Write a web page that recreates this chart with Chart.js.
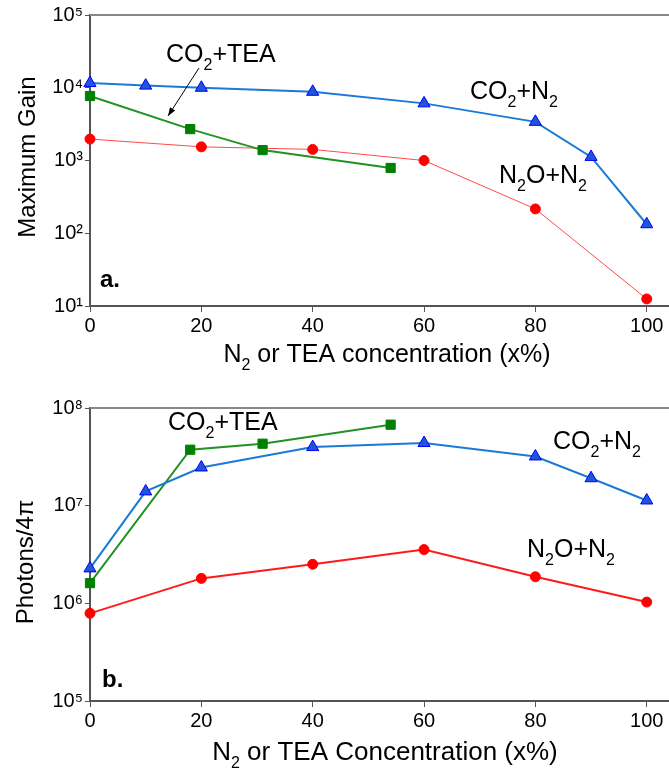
<!DOCTYPE html>
<html>
<head>
<meta charset="utf-8">
<script src="https://cdn.jsdelivr.net/npm/chart.js@4.4.1/dist/chart.umd.min.js"></script>
<style>
  html, body { margin: 0; padding: 0; background: #fff; }
  #wrap { position: relative; width: 669px; height: 769px; }
  #gainChart { position: absolute; left: 0; top: 0; }
  #photonChart { position: absolute; left: 0; top: 375px; }
</style>
</head>
<body>
<div id="wrap">
  <canvas id="gainChart" width="669" height="375"></canvas>
  <canvas id="photonChart" width="669" height="394"></canvas>
</div>
<script>
// concentration (x%) for each mixture
const xCO2N2 = [0, 10, 20, 40, 60, 80, 90, 100];
const xCO2TEA = [0, 18, 31, 54];
const xN2ON2 = [0, 20, 40, 60, 80, 100];

// panel a: maximum gain
const gainCO2N2 = [11600, 10700, 10000, 8800, 6100, 3400, 1120, 133];
const gainCO2TEA = [7700, 2700, 1390, 790];
const gainN2ON2 = [1970, 1540, 1420, 1000, 216, 12.5];

// panel b: photons / 4pi
const photCO2N2 = [2.28e6, 1.40e7, 2.46e7, 3.98e7, 4.38e7, 3.19e7, 1.91e7, 1.13e7];
const photCO2TEA = [1.61e6, 3.74e7, 4.31e7, 6.75e7];
const photN2ON2 = [7.9e5, 1.80e6, 2.51e6, 3.55e6, 1.87e6, 1.03e6];

// ticks
const xTicks = [0, 20, 40, 60, 80, 100];
const gainTicks = [1e1, 1e2, 1e3, 1e4, 1e5];
const photTicks = [1e5, 1e6, 1e7, 1e8];

const FONT = '"Liberation Sans", Arial, sans-serif';
const SUP = { 0: '\u2070', 1: '\u00b9', 2: '\u00b2', 3: '\u00b3', 4: '\u2074', 5: '\u2075', 6: '\u2076', 7: '\u2077', 8: '\u2078', 9: '\u2079' };

function pts(xs, ys) {
    return xs.map((x, i) => ({ x: x, y: ys[i] }));
}

// draw a label like CO2+TEA where sub parts are lowered
function drawChem(ctx, parts, x, y, size, align) {
    const subSize = Math.round(size * 0.62);
    let total = 0;
    parts.forEach(([t, sub]) => {
        ctx.font = (sub ? subSize : size) + 'px ' + FONT;
        total += ctx.measureText(t).width;
    });
    let cx = align === 'center' ? x - total / 2 : x;
    ctx.textAlign = 'left';
    ctx.textBaseline = 'alphabetic';
    parts.forEach(([t, sub]) => {
        ctx.font = (sub ? subSize : size) + 'px ' + FONT;
        ctx.fillText(t, cx, y + (sub ? size * 0.3 : 0));
        cx += ctx.measureText(t).width;
    });
}

function makeOptions(yMin, yMax, yTicks, padTop, xHeight) {
    return {
        responsive: false,
        animation: false,
        devicePixelRatio: 1,
        layout: { autoPadding: false, padding: { top: padTop, right: 0, left: 0, bottom: 0 } },
        plugins: { legend: { display: false }, tooltip: { enabled: false } },
        scales: {
            x: {
                type: 'linear',
                min: 0,
                max: 104,
                afterBuildTicks: (scale) => { scale.ticks = xTicks.map(v => ({ value: v })); },
                afterFit: (scale) => {
                    scale.height = xHeight;
                    scale.paddingLeft = 0;
                    scale.paddingRight = 0;
                },
                grid: { drawOnChartArea: false, drawTicks: true, tickLength: 6, color: '#555' },
                border: { display: true, color: '#555', width: 2 },
                ticks: { color: '#000', font: { family: FONT, size: 20 }, padding: 2, maxRotation: 0 }
            },
            y: {
                type: 'logarithmic',
                min: yMin,
                max: yMax,
                afterBuildTicks: (scale) => { scale.ticks = yTicks.map(v => ({ value: v })); },
                afterFit: (scale) => {
                    scale.width = 90;
                    scale.paddingTop = 0;
                    scale.paddingBottom = 0;
                },
                grid: { drawOnChartArea: false, drawTicks: true, tickLength: 5, color: '#555' },
                border: { display: true, color: '#555', width: 2 },
                ticks: {
                    color: '#000',
                    font: { family: FONT, size: 20 },
                    padding: 2,
                    callback: (v) => '10' + SUP[Math.round(Math.log10(v))]
                }
            }
        }
    };
}

function makeDatasets(a, b, c, thinRed) {
    return [
        {
            data: a, borderColor: '#1a7ad6', borderWidth: 2,
            pointStyle: 'triangle', pointRadius: 7, pointBackgroundColor: '#1f56d8',
            pointBorderColor: '#0000ff', pointBorderWidth: 1, clip: false
        },
        {
            data: b, borderColor: '#239223', borderWidth: 2,
            pointStyle: 'rect', pointRadius: 6.5, pointBackgroundColor: '#008000',
            pointBorderColor: '#008000', pointBorderWidth: 1, clip: false
        },
        {
            data: c, borderColor: thinRed ? '#ff4a4a' : '#ff1a1a', borderWidth: thinRed ? 1 : 2,
            pointStyle: 'circle', pointRadius: 5, pointBackgroundColor: '#ff0000',
            pointBorderColor: '#ff0000', pointBorderWidth: 1, clip: false
        }
    ];
}

// top frame line, titles, labels
function decorPlugin(cfg) {
    return {
        id: 'decor',
        afterDraw(chart) {
            const ctx = chart.ctx;
            const area = chart.chartArea;
            ctx.save();
            ctx.strokeStyle = '#888';
            ctx.lineWidth = 2;
            ctx.beginPath();
            ctx.moveTo(area.left, area.top);
            ctx.lineTo(chart.width, area.top);
            ctx.stroke();

            ctx.fillStyle = '#000';
            // y title
            ctx.save();
            ctx.translate(cfg.yTitle.x, cfg.yTitle.y);
            ctx.rotate(-Math.PI / 2);
            ctx.font = '24px ' + FONT;
            ctx.textAlign = 'center';
            ctx.textBaseline = 'alphabetic';
            ctx.fillText(cfg.yTitle.text, 0, 0);
            ctx.restore();

            // x title
            drawChem(ctx, cfg.xTitle.parts, cfg.xTitle.x, cfg.xTitle.y, cfg.xTitle.size, 'center');

            // series labels
            cfg.labels.forEach(l => drawChem(ctx, l.parts, l.x, l.y, 25, 'left'));

            // panel letter
            ctx.font = 'bold 24px ' + FONT;
            ctx.textAlign = 'left';
            ctx.fillText(cfg.panel.text, cfg.panel.x, cfg.panel.y);

            if (cfg.arrow) {
                const a = cfg.arrow;
                ctx.strokeStyle = '#000';
                ctx.lineWidth = 1;
                ctx.beginPath();
                ctx.moveTo(a.x1, a.y1);
                ctx.lineTo(a.x2, a.y2);
                ctx.stroke();
                const ang = Math.atan2(a.y2 - a.y1, a.x2 - a.x1);
                ctx.beginPath();
                ctx.moveTo(a.x2, a.y2);
                ctx.lineTo(a.x2 - 9 * Math.cos(ang - 0.35), a.y2 - 9 * Math.sin(ang - 0.35));
                ctx.lineTo(a.x2 - 9 * Math.cos(ang + 0.35), a.y2 - 9 * Math.sin(ang + 0.35));
                ctx.closePath();
                ctx.fill();
            }
            ctx.restore();
        }
    };
}

const CO2TEA = [['CO', 0], ['2', 1], ['+TEA', 0]];
const CO2N2 = [['CO', 0], ['2', 1], ['+N', 0], ['2', 1]];
const N2ON2 = [['N', 0], ['2', 1], ['O+N', 0], ['2', 1]];

new Chart(document.getElementById('gainChart'), {
    type: 'line',
    data: {
        datasets: makeDatasets(pts(xCO2N2, gainCO2N2), pts(xCO2TEA, gainCO2TEA), pts(xN2ON2, gainN2ON2), true)
    },
    options: makeOptions(10, 1e5, gainTicks, 15, 69),
    plugins: [decorPlugin({
        yTitle: { text: 'Maximum Gain', x: 35, y: 157 },
        xTitle: { parts: [['N', 0], ['2', 1], [' or TEA concentration (x%)', 0]], x: 387, y: 362, size: 25 },
        labels: [
            { parts: CO2TEA, x: 166, y: 62 },
            { parts: CO2N2, x: 470, y: 99 },
            { parts: N2ON2, x: 499, y: 183 }
        ],
        panel: { text: 'a.', x: 100, y: 287 },
        arrow: { x1: 199, y1: 68, x2: 168, y2: 116 }
    })]
});

new Chart(document.getElementById('photonChart'), {
    type: 'line',
    data: {
        datasets: makeDatasets(pts(xCO2N2, photCO2N2), pts(xCO2TEA, photCO2TEA), pts(xN2ON2, photN2ON2), false)
    },
    options: makeOptions(1e5, 1e8, photTicks, 33, 68),
    plugins: [decorPlugin({
        yTitle: { text: 'Photons/4\u03c0', x: 33, y: 187 },
        xTitle: { parts: [['N', 0], ['2', 1], [' or TEA Concentration (x%)', 0]], x: 385, y: 385, size: 26 },
        labels: [
            { parts: CO2TEA, x: 168, y: 55 },
            { parts: CO2N2, x: 553, y: 74 },
            { parts: N2ON2, x: 527, y: 182 }
        ],
        panel: { text: 'b.', x: 102, y: 312 }
    })]
});
</script>
</body>
</html>
